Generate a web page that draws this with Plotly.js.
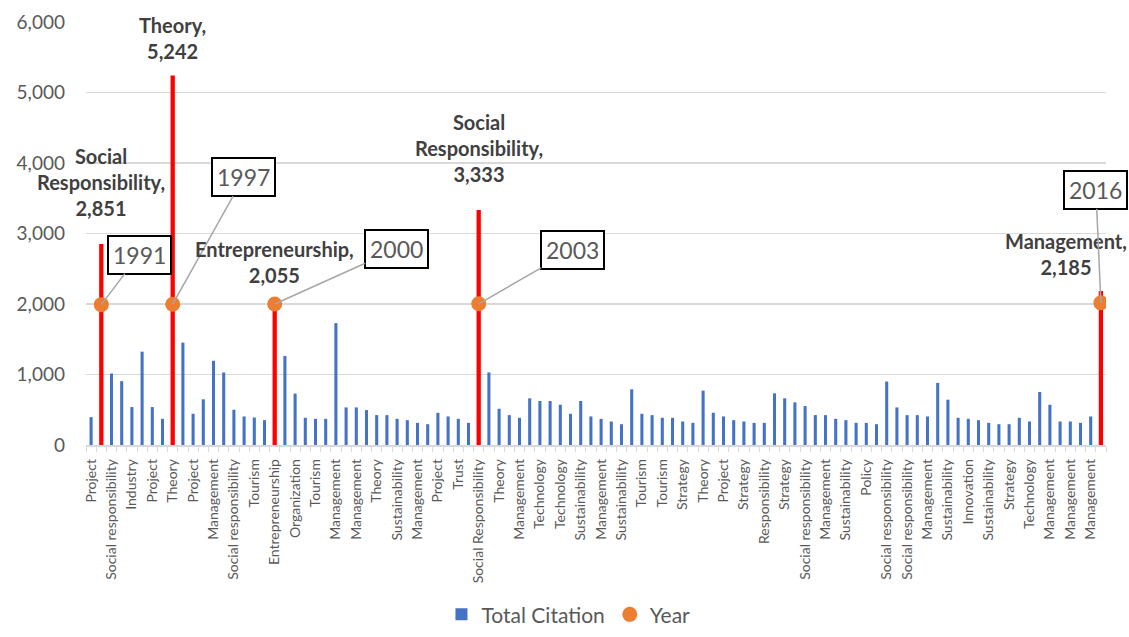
<!DOCTYPE html>
<html>
<head>
<meta charset="utf-8">
<script src="https://cdn.plot.ly/plotly-3.0.1.min.js"></script>
<style>html,body{margin:0;padding:0;background:#fff;}#chart{width:1129px;height:637px;}</style>
</head>
<body>
<div id="chart"></div>
<script>
// Axis labels shown under every other bar (even positions)
const tickLabels = [
  "Project","Social responsibility","Industry","Project","Theory","Project","Management",
  "Social responsibility","Tourism","Entrepreneurship","Organization","Tourism","Management",
  "Management","Theory","Sustainability","Management","Project","Trust","Social Responsibility",
  "Theory","Management","Technology","Technology","Sustainability","Management","Sustainability",
  "Tourism","Tourism","Strategy","Theory","Project","Strategy","Responsibility","Strategy",
  "Social responsibility","Management","Sustainability","Policy","Social responsibility",
  "Social responsibility","Management","Sustainability","Innovation","Sustainability","Strategy",
  "Technology","Management","Management","Management"
];

// Total citation of each of the 100 papers
const totalCitation = [
  395, 2851, 1014, 905, 538, 1324, 538, 371, 5242, 1452,
  443, 648, 1195, 1029, 500, 405, 390, 352, 2055, 1262,
  729, 386, 371, 371, 1729, 533, 533, 495, 424, 424,
  371, 352, 314, 295, 457, 405, 371, 314, 3333, 1029,
  514, 424, 386, 662, 624, 624, 571, 443, 624, 405,
  371, 333, 295, 790, 443, 424, 386, 386, 333, 314,
  771, 457, 405, 352, 333, 314, 314, 733, 662, 605,
  552, 424, 424, 371, 352, 314, 314, 295, 900, 533,
  424, 424, 405, 881, 643, 386, 371, 352, 314, 295,
  295, 386, 333, 752, 571, 333, 333, 314, 405, 2185
];

// Highlighted papers (red bars) and their publication year
const highlightIndex = [1, 8, 18, 38, 99];
const highlightKeyword = ["Social Responsibility", "Theory", "Entrepreneurship", "Social Responsibility", "Management"];
const years = [1991, 1997, 2000, 2003, 2016];

// ---- styling / placement (not data) ----
const BLUE = "#4472C4", RED = "#FF0000", ORANGE = "#ED7D31", GREY = "#595959";
const FONT = "Lato, 'Open Sans', sans-serif";
const labelShift = [[0, 22], [0, 10], [0, 11], [0, 22], [-35, 10]]; // [xshift, yshift] px
const yearBoxOffset = [[38, -50], [71, -127], [122, -55], [94, -54], [-5, -113]]; // [ax, ay] px

const n = totalCitation.length;
const xIdx = totalCitation.map((_, i) => i);
const isHi = xIdx.map(i => highlightIndex.includes(i));
const barColors = isHi.map(h => h ? RED : BLUE);
const barWidths = isHi.map(h => h ? 0.42 : 0.3);
const tickVals = tickLabels.map((_, k) => 2 * k);

const traces = [
  {
    type: "bar", name: "Total Citation", x: xIdx, y: totalCitation,
    marker: {color: barColors}, width: barWidths, hoverinfo: "x+y"
  },
  {
    type: "scatter", mode: "markers", name: "Year",
    x: highlightIndex, y: years,
    marker: {color: ORANGE, size: 15}
  }
];

const annotations = [];
highlightIndex.forEach((idx, k) => {
  const v = totalCitation[idx];
  annotations.push({
    x: idx, y: v, xref: "x", yref: "y", showarrow: false,
    yanchor: "bottom", xanchor: "center",
    xshift: labelShift[k][0], yshift: labelShift[k][1],
    text: highlightKeyword[k].replace(" ", "<br>") + ",<br>" + v.toLocaleString("en-US"),
    font: {family: FONT, size: 20, color: "#404040", weight: "bold"},
    align: "center"
  });
  annotations.push({
    x: idx, y: years[k], xref: "x", yref: "y",
    text: String(years[k]), showarrow: true, arrowhead: 0, arrowwidth: 1.5,
    arrowcolor: "#A6A6A6", standoff: 0,
    ax: yearBoxOffset[k][0], ay: yearBoxOffset[k][1],
    font: {family: FONT, size: 23, color: GREY},
    bgcolor: "#FFFFFF", bordercolor: "#000000", borderwidth: 2, borderpad: 4
  });
});

const layout = {
  width: 1129, height: 637,
  margin: {l: 86, r: 23, t: 22, b: 192, autoexpand: false},
  paper_bgcolor: "#FFFFFF", plot_bgcolor: "#FFFFFF",
  showlegend: true,
  legend: {
    orientation: "h", x: 0.473, xanchor: "center",
    yref: "container", y: 0.035, yanchor: "middle",
    font: {family: FONT, size: 21, color: GREY}, itemwidth: 30
  },
  xaxis: {
    range: [-0.5, n - 0.5], tickmode: "array", tickvals: tickVals, ticktext: tickLabels,
    tickangle: -90, tickfont: {family: FONT, size: 14, color: GREY},
    showgrid: false, zeroline: false, showline: true, linecolor: "#D9D9D9", linewidth: 1.5,
    ticks: "", ticklabelstandoff: 7, automargin: false,
    minor: {tickmode: "linear", tick0: 0.5, dtick: 1, ticks: "outside", ticklen: 5,
            tickcolor: "#D9D9D9", tickwidth: 1, showgrid: false}
  },
  yaxis: {
    range: [0, 6000], dtick: 1000, tickformat: ",",
    tickfont: {family: FONT, size: 19, color: GREY},
    showgrid: true, gridcolor: "#D9D9D9", gridwidth: 1.5, zeroline: false,
    showline: false, ticks: "", ticklabelstandoff: 20, automargin: false
  },
  annotations: annotations,
  bargap: 0.7
};

Plotly.newPlot("chart", traces, layout, {displayModeBar: false, staticPlot: true});
</script>
</body>
</html>
